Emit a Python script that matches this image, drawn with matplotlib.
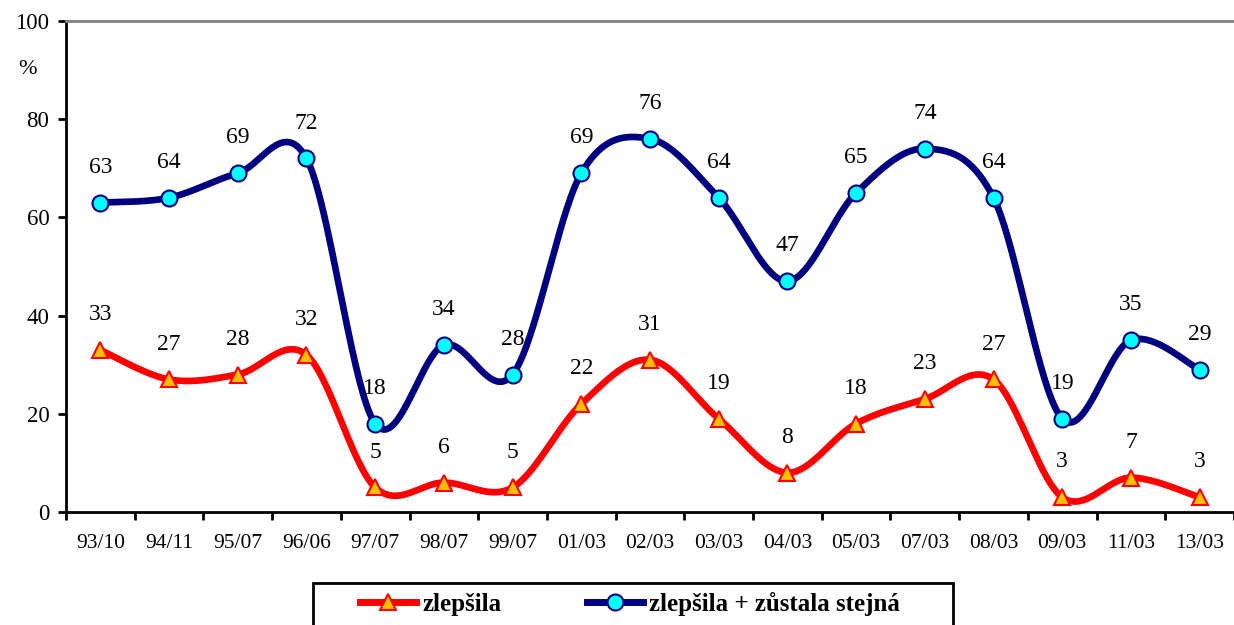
import numpy as np
import matplotlib.pyplot as plt
from matplotlib.lines import Line2D
from matplotlib.patches import Rectangle

periods = ['93/10', '94/11', '95/07', '96/06', '97/07', '98/07', '99/07', '01/03', '02/03',
           '03/03', '04/03', '05/03', '07/03', '08/03', '09/03', '11/03', '13/03']
improved = [33, 27, 28, 32, 5, 6, 5, 22, 31, 19, 8, 18, 23, 27, 3, 7, 3]
improved_or_same = [63, 64, 69, 72, 18, 34, 28, 69, 76, 64, 47, 65, 74, 64, 19, 35, 29]

plt.rcParams['font.family'] = ['Liberation Serif', 'DejaVu Serif']


def smooth(y, n=40):
    # Excel-like smoothing: cubic bezier with catmull-rom control points
    y = np.asarray(y, dtype=float)
    x = np.arange(len(y), dtype=float)
    xs, ys = [], []
    for i in range(len(y) - 1):
        p0 = np.array([x[max(i - 1, 0)], y[max(i - 1, 0)]])
        p1 = np.array([x[i], y[i]])
        p2 = np.array([x[i + 1], y[i + 1]])
        p3 = np.array([x[min(i + 2, len(y) - 1)], y[min(i + 2, len(y) - 1)]])
        c1 = p1 + (p2 - p0) / 6
        c2 = p2 - (p3 - p1) / 6
        t = np.linspace(0, 1, n)[:, None]
        pts = (1 - t) ** 3 * p1 + 3 * (1 - t) ** 2 * t * c1 + 3 * (1 - t) * t ** 2 * c2 + t ** 3 * p2
        xs.extend(pts[:, 0])
        ys.extend(pts[:, 1])
    return np.array(xs), np.array(ys)


W, H = 1234, 625
fig = plt.figure(figsize=(W / 100, H / 100), dpi=100)
ax = fig.add_axes([66 / W, 1 - 512 / H, 1168 / W, 491 / H])

x = np.arange(len(periods))
red = '#ff0000'
navy = '#000080'

sx, sy = smooth(improved_or_same)
ax.plot(sx, sy, color=navy, lw=4.8, solid_capstyle='round', zorder=2)
ax.plot(x, improved_or_same, 'o', ms=11.5, mfc='#00ffff', mec=navy, mew=1.5, zorder=3)

sx, sy = smooth(improved)
ax.plot(sx, sy, color=red, lw=4.8, solid_capstyle='round', zorder=2)
ax.plot(x, improved, '^', ms=12, mfc='#ffc000', mec=red, mew=1.5, zorder=3)

for xi, v in zip(x, improved_or_same):
    ax.annotate(str(v), (xi, v), xytext=(0, 25.5), textcoords='offset points',
                ha='center', va='center', fontsize=17)
for xi, v in zip(x, improved):
    ax.annotate(str(v), (xi, v), xytext=(0, 25.5), textcoords='offset points',
                ha='center', va='center', fontsize=17)

ax.set_xlim(-0.5, len(periods) - 0.5)
ax.set_ylim(0, 100)
ax.set_yticks(range(0, 101, 20))
ax.set_xticks(x)
ax.set_xticklabels(periods)
ax.set_xticks(np.arange(-0.5, len(periods), 1), minor=True)
ax.tick_params(axis='x', which='major', length=0, pad=16, labelsize=15.5)
ax.tick_params(axis='x', which='minor', length=6, width=2, direction='out')
ax.tick_params(axis='y', length=6, width=2, direction='out', labelsize=16.5, pad=6)

ax.spines['right'].set_visible(False)
ax.spines['top'].set_color('#808080')
ax.spines['top'].set_linewidth(2)
ax.spines['left'].set_linewidth(2)
ax.spines['bottom'].set_linewidth(2)

fig.text(27 / W, 1 - 70 / H, '%', fontsize=16, ha='center', va='center')

# legend box (runs off the bottom edge like the original)
fig.patches.append(Rectangle((313 / W, -0.05), (953 - 313) / W, 0.05 + (625 - 583) / H,
                             transform=fig.transFigure, fill=False, edgecolor='black', lw=2))

handles = [
    Line2D([], [], color=red, lw=5, marker='^', ms=12, mfc='#ffc000', mec=red, mew=1.5),
    Line2D([], [], color=navy, lw=5, marker='o', ms=11.5, mfc='#00ffff', mec=navy, mew=1.5),
]
fig.legend(handles, ['zlepšila', 'zlepšila + zůstala stejná'], ncol=2,
           loc='center left', bbox_to_anchor=(360 / W, 1 - 604 / H),
           frameon=False, borderpad=0, borderaxespad=0,
           prop={'weight': 'bold', 'size': 18}, handlelength=2.25,
           columnspacing=3.4, handletextpad=0.25)

fig.savefig('out.png', dpi=100)
